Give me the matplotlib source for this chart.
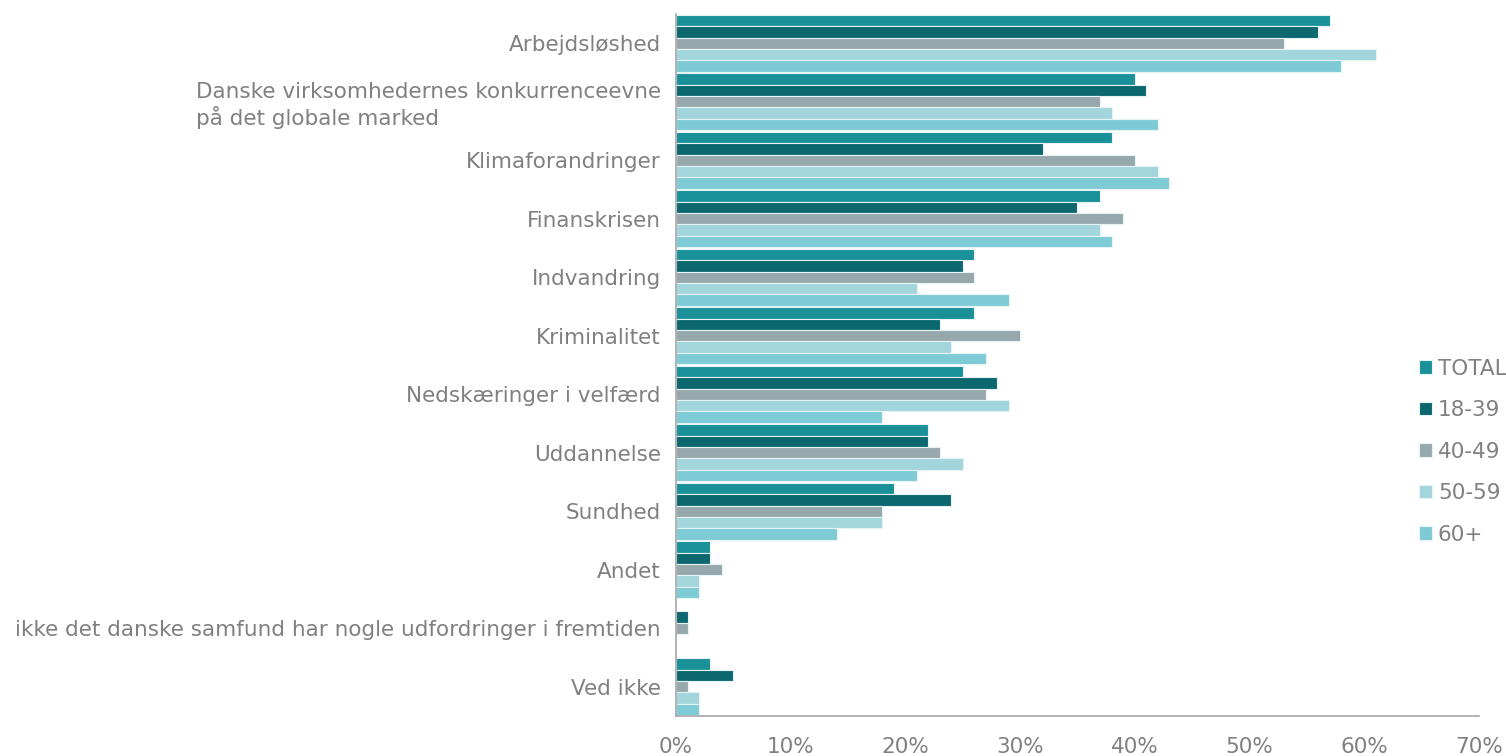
import matplotlib.pyplot as plt
import numpy as np

kategorier = ["Arbejdsløshed",
              "Danske virksomhedernes konkurrenceevne\npå det globale marked",
              "Klimaforandringer", "Finanskrisen", "Indvandring", "Kriminalitet",
              "Nedskæringer i velfærd", "Uddannelse", "Sundhed", "Andet",
              "ikke det danske samfund har nogle udfordringer i fremtiden",
              "Ved ikke"]
serier = ["TOTAL", "18-39", "40-49", "50-59", "60+"]
total = [57, 40, 38, 37, 26, 26, 25, 22, 19, 3, 0, 3]
aar_18_39 = [56, 41, 32, 35, 25, 23, 28, 22, 24, 3, 1, 5]
aar_40_49 = [53, 37, 40, 39, 26, 30, 27, 23, 18, 4, 1, 1]
aar_50_59 = [61, 38, 42, 37, 21, 24, 29, 25, 18, 2, 0, 2]
aar_60 = [58, 42, 43, 38, 29, 27, 18, 21, 14, 2, 0, 2]
xticks = [0, 10, 20, 30, 40, 50, 60, 70]

farver = ["#1a9098", "#0d676e", "#96a8ab", "#a3d5dc", "#7ecbd6"]
tekst = "#808080"

fig = plt.figure(figsize=(15.06, 7.56), dpi=100)
ax = fig.add_axes([0.4489, 0.0529, 0.982 - 0.4489, 0.9815 - 0.0529])

y = np.arange(len(kategorier))
h = 0.195
data = [total, aar_18_39, aar_40_49, aar_50_59, aar_60]
for i, (navn, vals) in enumerate(zip(serier, data)):
    ax.barh(y - 2 * h + i * h, vals, height=h, color=farver[i], label=navn,
            edgecolor="#e6f3f5", linewidth=0.8)

ax.set_ylim(len(kategorier) - 0.5, -0.5)
ax.set_xlim(0, 70)
ax.set_yticks(y)
ax.set_yticklabels(kategorier, fontsize=15.5, color=tekst, multialignment="left")
ax.set_xticks(xticks)
ax.set_xticklabels([f"{v}%" for v in xticks], fontsize=15.5, color=tekst)
ax.tick_params(axis="both", length=0)
ax.tick_params(axis="y", pad=11)
ax.tick_params(axis="x", pad=15)
for s in ["top", "right"]:
    ax.spines[s].set_visible(False)
for s in ["left", "bottom"]:
    ax.spines[s].set_color("#a6a6a6")
    ax.spines[s].set_linewidth(1.2)

leg = fig.legend(loc="upper left", bbox_to_anchor=(1410 / 1506, 1 - 350 / 756),
                 frameon=False, fontsize=15.5, handlelength=0.6, handleheight=0.6,
                 handletextpad=0.3, labelspacing=1.0, borderaxespad=0)
for t in leg.get_texts():
    t.set_color(tekst)

fig.savefig("out.png", dpi=100)
